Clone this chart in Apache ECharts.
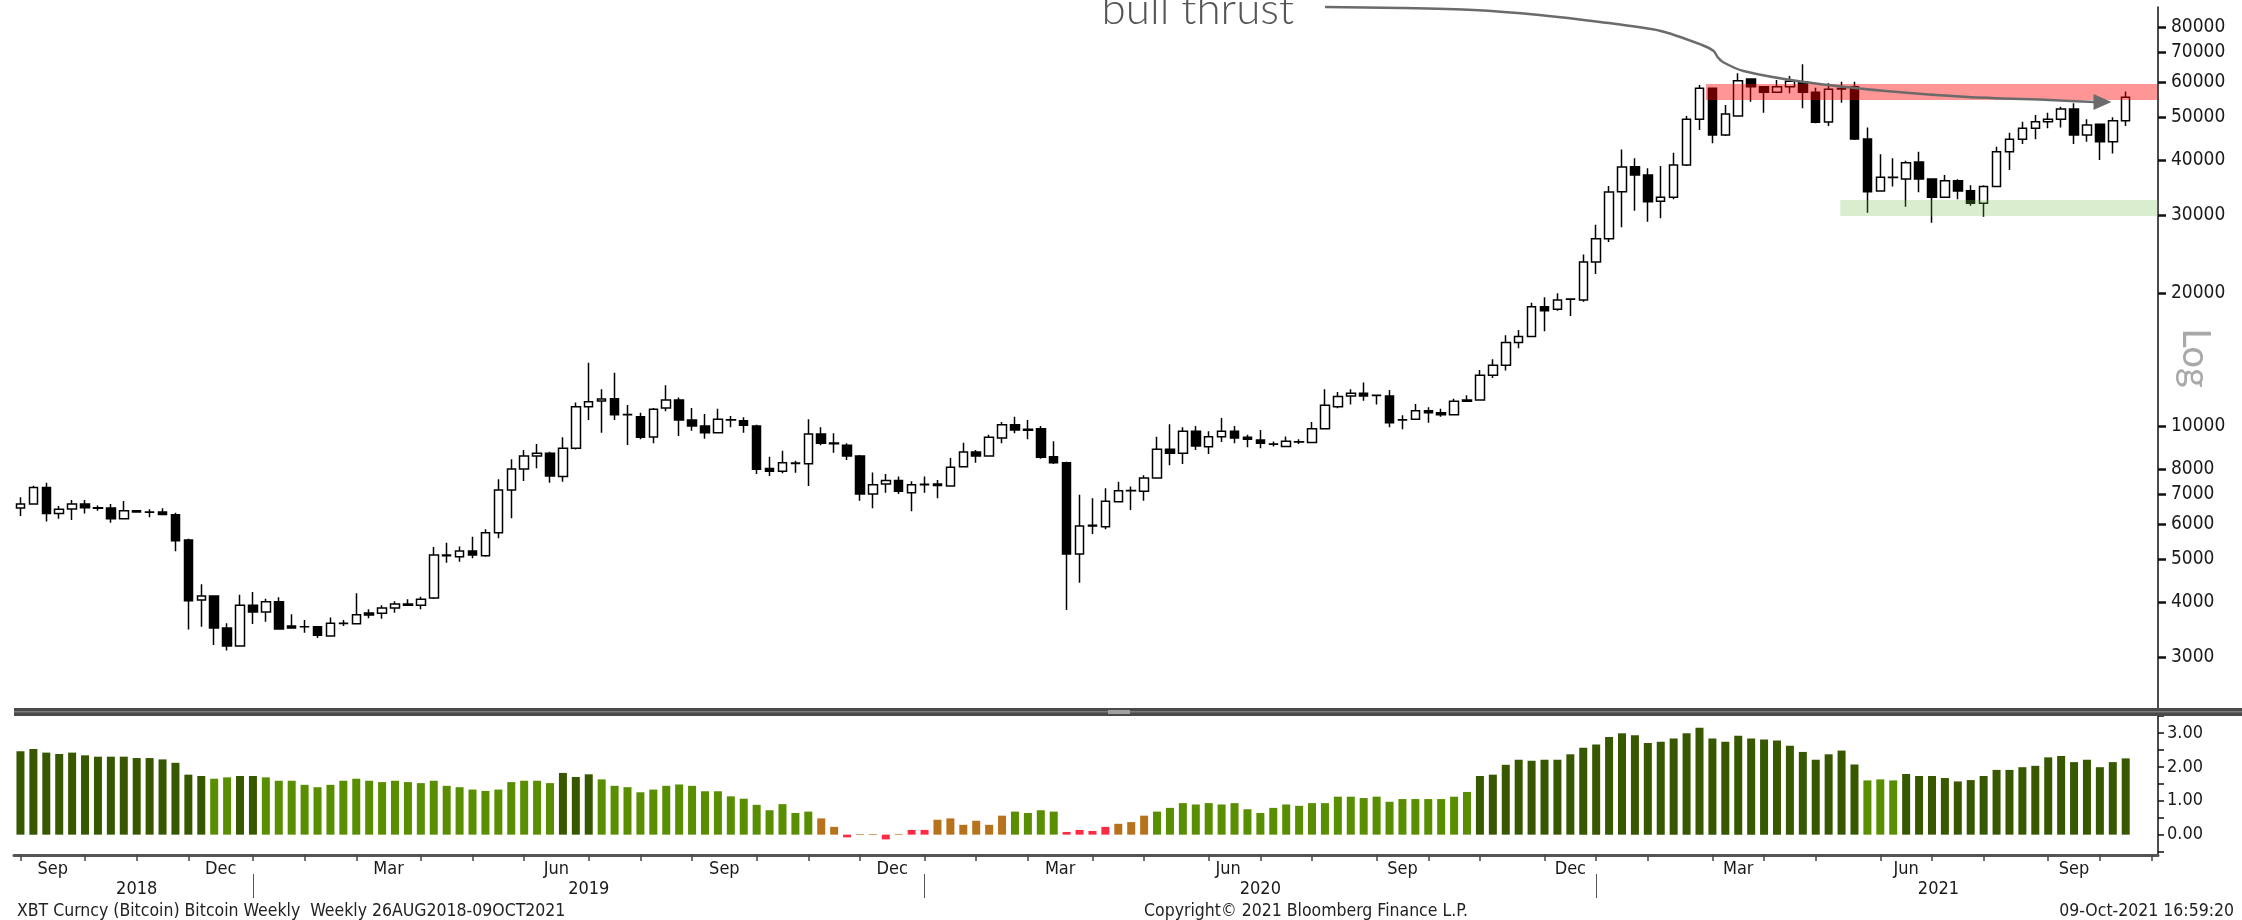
<!DOCTYPE html>
<html style="height: 100%">
<head>
    <meta charset="utf-8">
    <title>XBT Curncy (Bitcoin) weekly</title>
</head>
<body style="height: 100%; margin: 0; background: #fff">
<div id="container" style="width: 2242px; height: 920px"></div>
<script type="text/javascript" src="https://cdn.jsdelivr.net/npm/echarts@6/dist/echarts.min.js"></script>
<script type="text/javascript">
    // weekly bars 26AUG2018 - 09OCT2021, index 0..163
    var open = [
        6523,6660,7264,6344,6489,6660,6530,6523,6171,6433,6390,6388,6300,
        5523,4040,4125,3493,3180,3929,3795,4005,3529,3517,3517,3349,3575,
        3572,3775,3769,3875,3957,3929,4084,5108,5063,5215,5090,5739,7166,
        7995,8553,8676,7690,8905,11060,11394,11530,10600,10500,9450,10983,11454,
        10318,10002,9661,10318,10283,10002,8010,7898,8250,8215,9594,9150,9043,
        8555,7019,7395,7525,7068,7360,7395,7318,8093,8735,8555,9395,10070,
        9829,9863,8525,8264,5134,5940,5920,6744,7141,7117,7630,8857,8675,
        9728,8981,9460,9728,9428,9300,9110,8983,9200,9172,9865,11063,11695,
        11858,11736,11695,10320,10356,10834,10722,10610,11454,11454,13026,13722,15443,
        15933,18620,18365,19346,19279,23506,26540,33900,38610,36970,32230,32910,38950,
        49410,58080,45530,50280,60970,58580,56890,58580,60120,56890,48720,57980,58580,
        44600,34020,36530,36210,39560,36210,32910,35900,34080,31900,34800,41750,44520,
        47140,48810,49410,52140,45530,48130,43980,49060
    ];
    var high = [
        6896,7328,7442,6591,6801,6801,6614,6660,6766,6450,6478,6512,6366,
        5561,4384,4125,3578,4154,4212,4068,4097,3749,3641,3520,3690,3641,
        4183,3848,3929,4012,4054,4111,5325,5447,5336,5620,5840,7575,8409,
        8828,9109,8750,9429,11300,13910,12106,13205,11158,10720,10980,12360,11600,
        10980,10646,10946,10536,10470,10070,8524,8797,8347,10354,9930,9626,9137,
        8600,7845,7791,7683,7499,7683,7551,8466,9169,8826,9559,10211,10498,
        10318,10000,9233,8300,6995,6862,7229,7485,7293,7737,9460,10088,9931,
        10000,9728,10425,10000,9559,9797,9220,9463,9331,10214,12106,11940,12106,
        12538,11750,12065,10573,11218,11024,10947,11532,11736,13394,14159,16044,16494,
        19013,19547,19962,19420,24421,28548,34915,42250,40330,38280,38740,41540,50280,
        59090,58300,53230,62800,61000,58600,60650,61930,65810,58280,59610,60120,60120,
        47380,41180,40330,39840,41750,36210,36970,36150,35040,35040,42860,46090,48810,
        50540,51150,52770,53700,49410,48300,49930,57080
    ];
    var low = [
        6257,6640,6085,6171,6128,6344,6433,6043,6160,6370,6214,6300,5206,
        3467,3517,3196,3104,3170,3566,3609,3460,3490,3408,3314,3338,3529,
        3572,3672,3666,3782,3920,3848,4060,4908,4934,5020,5060,5572,6183,
        7510,8023,7445,7484,8850,10318,9661,10318,9061,9331,9140,10795,9494,
        9761,9363,9640,9932,9661,7789,7709,7816,7843,7319,9050,8705,8379,
        6779,6514,7068,7019,6412,7068,6862,7300,8080,8264,8540,9137,9626,
        9331,8437,8207,3836,4423,5698,5838,6730,6457,6779,7600,8151,8207,
        8826,8645,9200,9137,8950,8906,8983,8953,9109,9150,9840,10967,11179,
        11414,11179,9933,9831,10320,10177,10500,10580,11335,11430,12848,13348,14994,
        15900,16380,18239,17740,19111,22082,26083,28155,30700,28990,29500,32570,38740,
        46730,43610,45300,50100,54170,51150,56800,56600,52320,48380,47720,53880,44370,
        30380,33900,34800,31350,33780,28840,32800,32570,31510,29760,34700,37940,43460,
        44520,47140,47380,43460,43980,39980,41350,47720
    ];
    var close = [
        6660,7264,6344,6478,6660,6534,6520,6171,6433,6388,6385,6311,5504,
        4026,4125,3493,3180,3929,3795,4005,3474,3493,3515,3361,3578,3580,
        3743,3736,3875,3957,3929,4054,5105,5090,5215,5108,5739,7166,7995,
        8553,8676,7709,8905,11060,11354,11513,10609,10620,9429,10908,11454,10318,
        10002,9661,10354,10330,10037,7981,7898,8262,8230,9594,9140,9120,8555,
        7019,7369,7525,7117,7369,7380,7332,8065,8735,8555,9428,10070,9795,
        9780,8496,8264,5134,5940,5960,6756,7141,7150,7630,8857,8675,9728,
        9012,9460,9728,9395,9331,9140,9100,9235,9210,9865,11140,11655,11858,
        11695,11730,10177,10330,10834,10722,10610,11375,11375,13026,13722,15443,15933,
        18620,18239,19279,19380,23506,26540,33840,38550,36970,32170,32910,38950,49410,
        58080,45530,50800,60440,58580,56890,58580,60230,56890,48640,57780,57900,44600,
        33900,36530,36500,39420,36210,32910,35900,34020,31900,34800,41750,44520,47140,
        48810,49410,52140,45530,47960,43980,49060,55400
    ];

    // lower panel study and its regime (2 strong up, 1 up, 0 flat, -1 down)
    var study = [
        2.46,2.53,2.42,2.38,2.42,2.34,2.30,2.30,2.30,2.26,2.26,2.22,2.12,
        1.77,1.73,1.65,1.69,1.73,1.73,1.69,1.59,1.59,1.47,1.40,1.47,1.59,
        1.65,1.59,1.55,1.59,1.55,1.52,1.59,1.44,1.40,1.33,1.29,1.33,1.55,
        1.59,1.59,1.52,1.82,1.70,1.78,1.63,1.44,1.40,1.25,1.33,1.44,1.48,
        1.44,1.28,1.28,1.13,1.06,0.88,0.72,0.90,0.64,0.68,0.48,0.23,-0.08,
        0.02,0.02,-0.14,0.02,0.14,0.14,0.44,0.48,0.29,0.41,0.29,0.56,0.68,
        0.64,0.72,0.68,0.08,0.14,0.11,0.23,0.32,0.37,0.56,0.68,0.79,0.93,
        0.89,0.93,0.89,0.93,0.75,0.64,0.79,0.89,0.85,0.93,0.93,1.12,1.12,
        1.08,1.12,0.97,1.05,1.05,1.05,1.05,1.12,1.26,1.73,1.77,2.06,2.21,
        2.18,2.21,2.21,2.37,2.56,2.66,2.88,2.99,2.93,2.70,2.74,2.84,2.99,
        3.15,2.84,2.74,2.92,2.84,2.81,2.78,2.62,2.44,2.21,2.37,2.48,2.07,
        1.60,1.63,1.60,1.79,1.73,1.73,1.67,1.57,1.61,1.73,1.91,1.91,1.99,
        2.03,2.28,2.32,2.14,2.21,1.99,2.14,2.25
    ];
    var regime = [
        2,2,2,2,2,2,2,2,2,2,2,2,2,
        2,2,1,1,2,2,1,1,1,1,1,1,1,
        1,1,1,1,1,1,1,1,1,1,1,1,1,
        1,1,1,2,2,2,1,1,1,1,1,1,1,
        1,1,1,1,1,1,1,1,1,1,0,0,-1,
        0,0,-1,0,-1,-1,0,0,0,0,0,0,1,
        1,1,1,-1,-1,-1,-1,0,0,0,1,1,1,
        1,1,1,1,1,1,1,1,1,1,1,1,1,
        1,1,1,1,1,1,1,1,1,2,2,2,2,
        2,2,2,2,2,2,2,2,2,2,2,2,2,
        2,2,2,2,2,2,2,2,2,2,2,2,2,
        1,1,1,2,2,2,2,2,2,2,2,2,2,
        2,2,2,2,2,2,2,2
    ];

    // axis furniture
    var monthTicks = [0,5,9,13,18,22,26,31,35,39,44,48,52,57,61,65,70,74,78,83,87,
        92,96,100,105,109,113,118,122,126,131,135,139,144,148,152,157,161,165];
    var monthPos = [2.5,15.5,28.5,41.5,54.5,67.5,80.5,93.5,107,120,133,146,159];
    var monthNames = ['Sep','Dec','Mar','Jun','Sep','Dec','Mar','Jun','Sep','Dec','Mar','Jun','Sep'];
    var yearPos = [9, 44, 96, 148.5];
    var yearNames = ['2018', '2019', '2020', '2021'];
    var yearBreaks = [18, 70, 122];
    var priceTicks = [3000,4000,5000,6000,7000,8000,10000,20000,30000,40000,50000,60000,70000,80000];
    var studyTicks = [0, 1, 2, 3];

    // annotations: zones [fromWeek, toWeek, lowPrice, highPrice] and arrow [week, price]
    var resistZone = [130.5, 165.5, 54650, 59400];
    var supportZone = [140.9, 165.5, 29870, 32470];
    var arrowPath = [[101.0,88720],[106.8,88260],[112.5,87340],[117.6,85090],[122.3,82040],
        [127.0,78290],[130.2,72780],[131.1,70540],[131.4,68360],[131.8,66610],[133.4,63560],
        [138.1,60020],[144.4,57270],[150.8,55510],[157.1,54650],[160.6,54080]];
    var arrowTip = [161.9, 54080];
    var noteAnchor = [83.7, 78000];

    var font = "'DejaVu Sans Condensed', 'Liberation Sans Narrow', 'DejaVu Sans', sans-serif";
    var regimeColor = {'2': '#385800', '1': '#588e00', '0': '#b7731c', '-1': '#ff2b45'};

    var candles = open.map(function (o, i) {
        return [i, o, close[i], low[i], high[i]];
    });
    var bars = study.map(function (v, i) {
        return {value: [i, v], itemStyle: {color: regimeColor[regime[i]]}};
    });

    var dom = document.getElementById("container");
    var myChart = echarts.init(dom);
    var option = {
        animation: false,
        backgroundColor: '#ffffff',
        grid: [
            {left: 14, right: 84, top: 7, height: 702, containLabel: false, outerBoundsMode: 'none'},
            {left: 14, right: 84, top: 716, height: 139, containLabel: false, outerBoundsMode: 'none'}
        ],
        xAxis: [{
            gridIndex: 0, type: 'value', min: -0.5, max: 165.5,
            show: false
        }, {
            gridIndex: 1, type: 'value', min: -0.5, max: 165.5,
            axisLine: {onZero: false, lineStyle: {color: '#555555', width: 3}},
            axisTick: {customValues: monthTicks, length: 6, lineStyle: {color: '#444444', width: 1.5}},
            axisLabel: {
                customValues: monthPos, margin: 5, fontFamily: font, fontSize: 18, color: '#1a1a1a',
                formatter: function (v) { return monthNames[monthPos.indexOf(v)] || ''; }
            },
            splitLine: {show: false}
        }, {
            gridIndex: 1, type: 'value', min: -0.5, max: 165.5, position: 'bottom', offset: 21,
            axisLine: {show: false}, axisTick: {show: false},
            axisLabel: {
                customValues: yearPos, margin: 4, fontFamily: font, fontSize: 18, color: '#1a1a1a',
                formatter: function (v) { return yearNames[yearPos.indexOf(v)] || ''; }
            },
            splitLine: {show: false}
        }, {
            gridIndex: 1, type: 'value', min: -0.5, max: 165.5, position: 'bottom', offset: 19,
            axisLine: {show: false},
            axisTick: {customValues: yearBreaks, length: 24, lineStyle: {color: '#555555', width: 1}},
            axisLabel: {show: false},
            splitLine: {show: false}
        }],
        yAxis: [{
            gridIndex: 0, type: 'log', logBase: 10, min: 2290, max: 88700, position: 'right',
            name: 'Log', nameLocation: 'middle', nameRotate: -90, nameGap: 18, nameMoveOverlap: false,
            nameTextStyle: {fontFamily: 'Lato, sans-serif', fontSize: 38, color: '#a9a9a9'},
            axisLine: {show: true, onZero: false, lineStyle: {color: '#111111', width: 1.5}},
            axisTick: {show: true, customValues: priceTicks, length: 8, lineStyle: {color: '#111111', width: 2.5}},
            axisLabel: {
                customValues: priceTicks, margin: 13, fontFamily: font, fontSize: 19, color: '#1a1a1a',
                formatter: function (v) { return String(Math.round(v)); }
            },
            splitLine: {show: false}
        }, {
            gridIndex: 1, type: 'value', min: -0.6, max: 3.5, position: 'right',
            axisLine: {show: true, onZero: false, lineStyle: {color: '#111111', width: 1.5}},
            axisTick: {show: true, customValues: [-0.5,0,0.5,1,1.5,2,2.5,3,3.5], length: 6,
                lineStyle: {color: '#111111', width: 1.5}},
            axisLabel: {
                customValues: studyTicks, margin: 9, fontFamily: font, fontSize: 18, color: '#1a1a1a',
                formatter: function (v) { return v.toFixed(2); }
            },
            splitLine: {show: false}
        }],
        series: [{
            name: 'XBT',
            type: 'candlestick',
            xAxisIndex: 0, yAxisIndex: 0,
            encode: {x: 0, y: [1, 2, 3, 4]},
            barWidth: 9,
            itemStyle: {color: '#ffffff', color0: '#000000', borderColor: '#000000', borderColor0: '#000000', borderWidth: 1.5},
            data: candles
        }, {
            name: 'zones',
            type: 'line',
            xAxisIndex: 0, yAxisIndex: 0,
            z: 10,
            data: [],
            markArea: {
                silent: true,
                z: 10,
                data: [
                    [{xAxis: resistZone[0], yAxis: resistZone[2], itemStyle: {color: 'rgba(255,0,0,0.41)'}},
                     {xAxis: resistZone[1], yAxis: resistZone[3]}],
                    [{xAxis: supportZone[0], yAxis: supportZone[2], itemStyle: {color: 'rgba(110,185,70,0.26)'}},
                     {xAxis: supportZone[1], yAxis: supportZone[3]}]
                ]
            }
        }, {
            name: 'study',
            type: 'bar',
            xAxisIndex: 1, yAxisIndex: 1,
            barWidth: 8,
            data: bars
        }]
    };
    myChart.setOption(option, true);

    // annotations placed from data coordinates
    var toPx = function (p) { return myChart.convertToPixel({xAxisIndex: 0, yAxisIndex: 0}, p); };
    var pts = arrowPath.map(toPx);
    var tip = toPx(arrowTip);
    var note = toPx(noteAnchor);
    var foot = "17.5px " + font;
    myChart.setOption({
        graphic: [
            {type: 'polyline', z: 100, shape: {points: pts, smooth: 0.25},
                style: {stroke: '#6b6b6b', lineWidth: 2.5, fill: null}},
            {type: 'polygon', z: 100, shape: {points: [[tip[0], tip[1]], [tip[0] - 18, tip[1] - 8], [tip[0] - 18, tip[1] + 8]]},
                style: {fill: '#6b6b6b'}},
            {type: 'text', z: 100, x: note[0], y: note[1],
                style: {text: 'bull thrust', font: '300 44px Lato, sans-serif', fill: '#555555', verticalAlign: 'bottom'}},
            {type: 'rect', z: 100, shape: {x: 14, y: 708, width: 2228, height: 8}, style: {fill: '#4a4a4a'}},
            {type: 'rect', z: 101, shape: {x: 14, y: 711, width: 2228, height: 1.5}, style: {fill: '#7a7a7a'}},
            {type: 'rect', z: 102, shape: {x: 1108, y: 710, width: 22, height: 4}, style: {fill: '#a0a0a0'}},
            {type: 'text', z: 100, x: 17, y: 911,
                style: {text: 'XBT Curncy (Bitcoin) Bitcoin Weekly  Weekly 26AUG2018-09OCT2021',
                    font: foot, fill: '#222222', verticalAlign: 'middle'}},
            {type: 'text', z: 100, x: 1306, y: 911,
                style: {text: 'Copyright\u00a9 2021 Bloomberg Finance L.P.',
                    font: foot, fill: '#222222', align: 'center', verticalAlign: 'middle'}},
            {type: 'text', z: 100, x: 2234, y: 911,
                style: {text: '09-Oct-2021 16:59:20',
                    font: foot, fill: '#222222', align: 'right', verticalAlign: 'middle'}}
        ]
    });
</script>
</body>
</html>
